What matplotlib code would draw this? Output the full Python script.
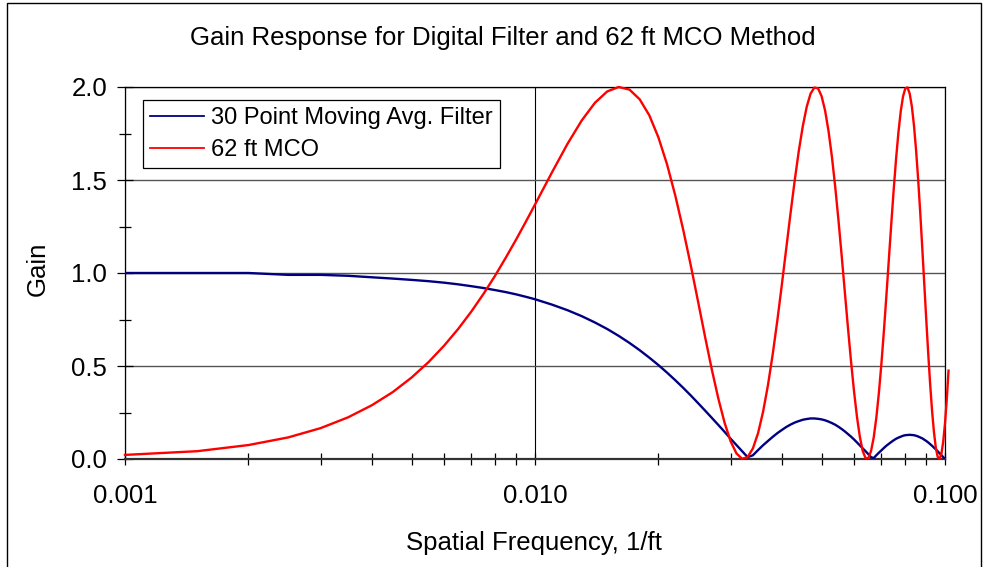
import matplotlib
matplotlib.use('Agg')
import matplotlib.pyplot as plt
from matplotlib.ticker import FixedLocator, FixedFormatter, MultipleLocator, FormatStrFormatter, NullFormatter
from matplotlib.patches import Rectangle

# ---------------- data ----------------
freq = [0.0010, 0.0015, 0.0020, 0.0025, 0.0030, 0.0035, 0.0040, 0.0045, 0.0050,
        0.0055, 0.0060, 0.0065, 0.0070, 0.0075, 0.0080, 0.0085, 0.0090, 0.0095,
        0.010, 0.011, 0.012, 0.013, 0.014, 0.015, 0.016, 0.017, 0.018, 0.019,
        0.020, 0.021, 0.022, 0.023, 0.024, 0.025, 0.026, 0.027, 0.028, 0.029,
        0.030, 0.031, 0.032, 0.033, 0.034, 0.035, 0.036, 0.037, 0.038, 0.039,
        0.040, 0.041, 0.042, 0.043, 0.044, 0.045, 0.046, 0.047, 0.048, 0.049,
        0.050, 0.051, 0.052, 0.053, 0.054, 0.055, 0.056, 0.057, 0.058, 0.059,
        0.060, 0.061, 0.062, 0.063, 0.064, 0.065, 0.066, 0.067, 0.068, 0.069,
        0.070, 0.071, 0.072, 0.073, 0.074, 0.075, 0.076, 0.077, 0.078, 0.079,
        0.080, 0.081, 0.082, 0.083, 0.084, 0.085, 0.086, 0.087, 0.088, 0.089,
        0.090, 0.091, 0.092, 0.093, 0.094, 0.095, 0.096, 0.097, 0.098, 0.099,
        0.100]

filter_gain = [1.000, 1.000, 1.000, 0.990, 0.990, 0.985, 0.977, 0.970, 0.963,
               0.956, 0.948, 0.939, 0.929, 0.919, 0.908, 0.897, 0.885, 0.872,
               0.859, 0.830, 0.800, 0.768, 0.734, 0.699, 0.662, 0.624, 0.585, 0.545,
               0.505, 0.464, 0.423, 0.382, 0.341, 0.300, 0.260, 0.221, 0.183, 0.146,
               0.109, 0.075, 0.042, 0.010, 0.020, 0.048, 0.074, 0.097, 0.119, 0.139,
               0.156, 0.172, 0.185, 0.196, 0.204, 0.211, 0.215, 0.218, 0.218, 0.216,
               0.213, 0.208, 0.201, 0.193, 0.184, 0.173, 0.161, 0.148, 0.134, 0.120,
               0.105, 0.089, 0.073, 0.057, 0.042, 0.026, 0.010, 0.005, 0.020, 0.034,
               0.047, 0.060, 0.072, 0.082, 0.092, 0.101, 0.109, 0.115, 0.120, 0.125,
               0.128, 0.129, 0.130, 0.129, 0.128, 0.125, 0.121, 0.116, 0.111, 0.104,
               0.097, 0.089, 0.080, 0.071, 0.061, 0.052, 0.041, 0.031, 0.021, 0.010,
               0.000]

freq_mco = freq + [0.101, 0.102]

mco_gain = [0.022, 0.042, 0.075, 0.116, 0.166, 0.224, 0.289, 0.360, 0.438,
            0.521, 0.609, 0.700, 0.794, 0.890, 0.987, 1.085, 1.181, 1.276,
            1.368, 1.541, 1.694, 1.820, 1.915, 1.976, 2.000, 1.986, 1.934, 1.848,
            1.729, 1.583, 1.414, 1.230, 1.038, 0.844, 0.655, 0.480, 0.325, 0.195,
            0.095, 0.030, 0.001, 0.010, 0.057, 0.139, 0.254, 0.397, 0.563, 0.745,
            0.937, 1.132, 1.321, 1.498, 1.657, 1.790, 1.894, 1.964, 1.997, 1.993,
            1.951, 1.873, 1.762, 1.623, 1.460, 1.279, 1.088, 0.893, 0.703, 0.524,
            0.363, 0.226, 0.118, 0.043, 0.005, 0.004, 0.042, 0.115, 0.222, 0.358,
            0.518, 0.697, 0.887, 1.082, 1.273, 1.454, 1.618, 1.758, 1.870, 1.949,
            1.992, 1.998, 1.965, 1.897, 1.794, 1.661, 1.504, 1.327, 1.138, 0.944,
            0.751, 0.569, 0.402, 0.258, 0.143, 0.059, 0.011, 0.001, 0.028, 0.093,
            0.191, 0.320, 0.475]

series_labels = ['30 Point Moving Avg. Filter', '62 ft MCO']
x_ticks = [0.001, 0.01, 0.1]
x_tick_labels = ['0.001', '0.010', '0.100']
y_ticks = [0.0, 0.5, 1.0, 1.5, 2.0]

title = 'Gain Response for Digital Filter and 62 ft MCO Method'
x_label = 'Spatial Frequency, 1/ft'
y_label = 'Gain'

# ---------------- figure ----------------
plt.rcParams['font.family'] = ['Liberation Sans', 'DejaVu Sans']
FS = 18.5
FS_LEG = 17

W, H = 984, 567
fig = plt.figure(figsize=(W / 100, H / 100), dpi=100)
fig.patch.set_facecolor('white')

# outer chart border
fig.patches.append(Rectangle((7 / W, -0.01), (981 - 7) / W, 1.01 - 3 / H,
                             transform=fig.transFigure, fill=False,
                             edgecolor='black', linewidth=1.0))

left, right, top, bottom = 125, 945, 87, 459
ax = fig.add_axes([left / W, 1 - bottom / H, (right - left) / W, (bottom - top) / H])
ax.set_xscale('log')
ax.set_xlim(0.001, 0.1)
ax.set_ylim(0, 2)

ax.plot(freq, filter_gain, color='#000080', lw=1.7, label=series_labels[0], zorder=3)
ax.plot(freq_mco, mco_gain, color='#FF0000', lw=1.7, label=series_labels[1], zorder=4,
        clip_on=False)

# ticks
ax.xaxis.set_major_locator(FixedLocator(x_ticks))
ax.xaxis.set_major_formatter(FixedFormatter(x_tick_labels))
minor = [m * d for d in (0.001, 0.01) for m in range(2, 10)]
ax.xaxis.set_minor_locator(FixedLocator(minor))
ax.xaxis.set_minor_formatter(NullFormatter())
ax.yaxis.set_major_locator(FixedLocator(y_ticks))
ax.yaxis.set_major_formatter(FormatStrFormatter('%.1f'))
ax.yaxis.set_minor_locator(MultipleLocator(0.25))

ax.tick_params(axis='x', which='both', direction='inout', length=8.6, width=0.9,
               color='black', labelsize=FS, pad=14)
ax.tick_params(axis='y', which='major', direction='inout', length=11.5, width=0.9,
               color='black', labelsize=FS, pad=7)
ax.tick_params(axis='y', which='minor', direction='inout', length=9, width=0.9,
               color='black')

# grid
ax.yaxis.grid(True, which='major', color='#555555', lw=1.0)
ax.xaxis.grid(True, which='major', color='black', lw=0.8)
ax.set_axisbelow(True)

for s in ['left', 'top', 'right']:
    ax.spines[s].set_color('black')
    ax.spines[s].set_linewidth(0.9)
ax.spines['bottom'].set_color('#333333')
ax.spines['bottom'].set_linewidth(1.6)

# legend
leg = ax.legend(loc='upper left', bbox_to_anchor=(18 / 820, 1 - 13 / 372),
                borderaxespad=0, fancybox=False, framealpha=1, edgecolor='black',
                fontsize=FS_LEG, handlelength=2.3, handletextpad=0.3,
                borderpad=0.3, labelspacing=0.42)
leg.get_frame().set_linewidth(0.9)
for line in leg.get_lines():
    line.set_linewidth(1.3)

# texts
fig.text(503 / W, 1 - 38 / H, title, ha='center', va='center', fontsize=FS)
fig.text(534 / W, 1 - 543 / H, x_label, ha='center', va='center', fontsize=FS)
fig.text(38 / W, 1 - 269 / H, y_label, ha='center', va='center', fontsize=FS,
         rotation=90)

fig.savefig('out.png', dpi=100)
